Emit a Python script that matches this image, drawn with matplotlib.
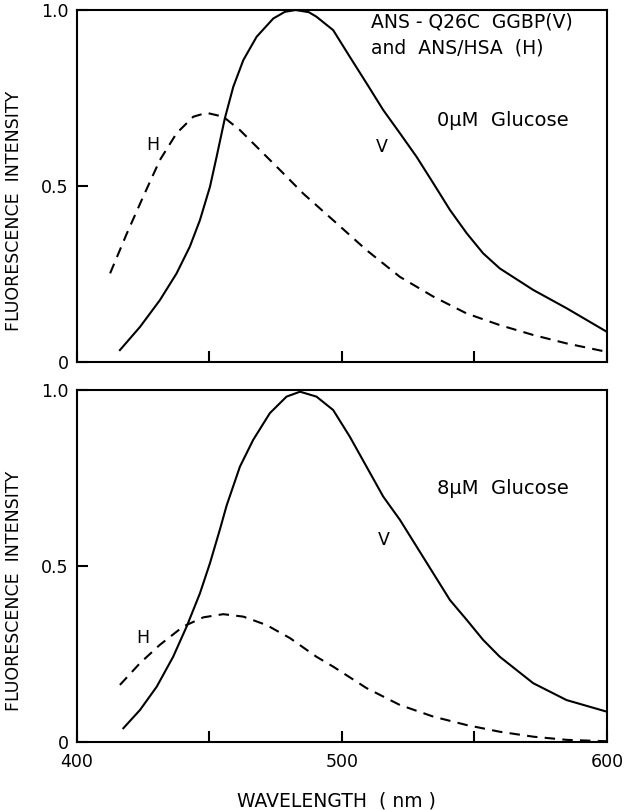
import matplotlib
matplotlib.use("Agg")
import matplotlib.pyplot as plt

# ---------------------------------------------------------------------------
# values (wavelength nm, normalised intensity)
# ---------------------------------------------------------------------------
top_v_nm = [416.2, 423.8, 431.3, 437.6, 442.6, 446.4, 450.2, 452.7, 455.8,
            459.0, 462.8, 467.8, 474.1, 478.5, 482.5, 487.5, 490.4, 496.7,
            503.0, 509.3, 515.6, 521.9, 528.2, 534.5, 540.8, 547.1, 553.3,
            559.6, 572.2, 584.8, 600.0]
top_v_int = [0.034, 0.100, 0.176, 0.252, 0.328, 0.403, 0.498, 0.583, 0.692,
             0.782, 0.858, 0.924, 0.976, 0.995, 1.0, 0.994, 0.981, 0.943,
             0.867, 0.792, 0.716, 0.650, 0.583, 0.508, 0.432, 0.366, 0.309,
             0.266, 0.205, 0.153, 0.086]

top_h_nm = [412.5, 418.8, 425.0, 431.3, 437.6, 443.9, 448.9, 455.2, 461.5,
            469.1, 477.9, 485.5, 496.7, 509.3, 521.9, 534.5, 547.1, 559.6,
            572.2, 584.8, 600.0]
top_h_int = [0.252, 0.365, 0.470, 0.574, 0.650, 0.697, 0.708, 0.697, 0.659,
             0.602, 0.536, 0.478, 0.403, 0.318, 0.242, 0.186, 0.138, 0.105,
             0.077, 0.053, 0.029]

bot_v_nm = [417.5, 423.8, 430.1, 436.3, 441.4, 446.4, 450.2, 454.0, 456.5,
            461.5, 466.5, 472.8, 479.1, 484.2, 490.4, 496.7, 503.0, 509.3,
            515.6, 521.9, 528.2, 534.5, 540.8, 547.1, 553.3, 559.6, 572.2,
            584.8, 600.0]
bot_v_int = [0.039, 0.091, 0.157, 0.242, 0.328, 0.422, 0.508, 0.605, 0.672,
             0.782, 0.858, 0.934, 0.981, 0.995, 0.981, 0.943, 0.867, 0.782,
             0.697, 0.631, 0.555, 0.479, 0.403, 0.347, 0.290, 0.242, 0.167,
             0.119, 0.086]

bot_h_nm = [416.2, 423.8, 431.3, 440.1, 447.7, 455.2, 462.8, 471.6, 480.4,
            490.4, 496.7, 509.3, 521.9, 534.5, 547.1, 559.6, 572.2, 584.8,
            600.0]
bot_h_int = [0.162, 0.224, 0.276, 0.328, 0.354, 0.363, 0.356, 0.332, 0.295,
             0.242, 0.214, 0.153, 0.105, 0.072, 0.048, 0.029, 0.015, 0.006,
             0.002]

x_ticks = [400, 450, 500, 550, 600]
x_ticklabels = ["400", "", "500", "", "600"]
y_ticks = [0, 0.5, 1.0]
y_ticklabels = ["0", "0.5", "1.0"]

panels = [
    (top_v_nm, top_v_int, top_h_nm, top_h_int,
     [("ANS - Q26C  GGBP(V)", 511, 0.966, 13.5),
      ("and  ANS/HSA  (H)", 511, 0.892, 13.5),
      ("0\u03bcM  Glucose", 535.8, 0.6875, 14)],
     (428.5, 0.616), (515, 0.61)),
    (bot_v_nm, bot_v_int, bot_h_nm, bot_h_int,
     [("8\u03bcM  Glucose", 535.8, 0.72, 14)],
     (425, 0.295), (516, 0.574)),
]

fig = plt.figure(figsize=(6.3, 8.1), dpi=100)
rects = [(0.1222, 0.553, 0.841, 0.4346), (0.1222, 0.084, 0.841, 0.4346)]

for i, (rect, p) in enumerate(zip(rects, panels)):
    vx, vy, hx, hy, notes, hpos, vpos = p
    ax = fig.add_axes(rect)
    ax.plot(vx, vy, color="black", lw=1.5, solid_joinstyle="round")
    ax.plot(hx, hy, color="black", lw=1.5, linestyle=(0, (5, 3.5)))
    ax.set_xlim(400, 600)
    ax.set_ylim(0, 1.0)
    for s in ax.spines.values():
        s.set_linewidth(1.5)
    ax.set_xticks(x_ticks)
    ax.set_xticklabels(x_ticklabels if i == 1 else [""] * len(x_ticks))
    ax.set_yticks(y_ticks)
    ax.set_yticklabels(y_ticklabels)
    ax.tick_params(direction="in", length=8, width=1.5, labelsize=12.5,
                   top=False, right=False)
    ax.tick_params(axis="x", pad=8)
    ax.tick_params(axis="y", pad=6)
    ax.set_ylabel("FLUORESCENCE  INTENSITY", fontsize=12.5)
    ax.yaxis.set_label_coords(-0.102, 0.43)
    for txt, x, y, fs in notes:
        ax.text(x, y, txt, fontsize=fs, ha="left", va="center")
    ax.text(hpos[0], hpos[1], "H", fontsize=12.5, ha="center", va="center")
    ax.text(vpos[0], vpos[1], "V", fontsize=12.5, ha="center", va="center")
    if i == 1:
        ax.set_xlabel("WAVELENGTH  ( nm )", fontsize=13.5)
        ax.xaxis.set_label_coords(0.49, -0.142)

fig.savefig("out.png", dpi=100, facecolor="white")
